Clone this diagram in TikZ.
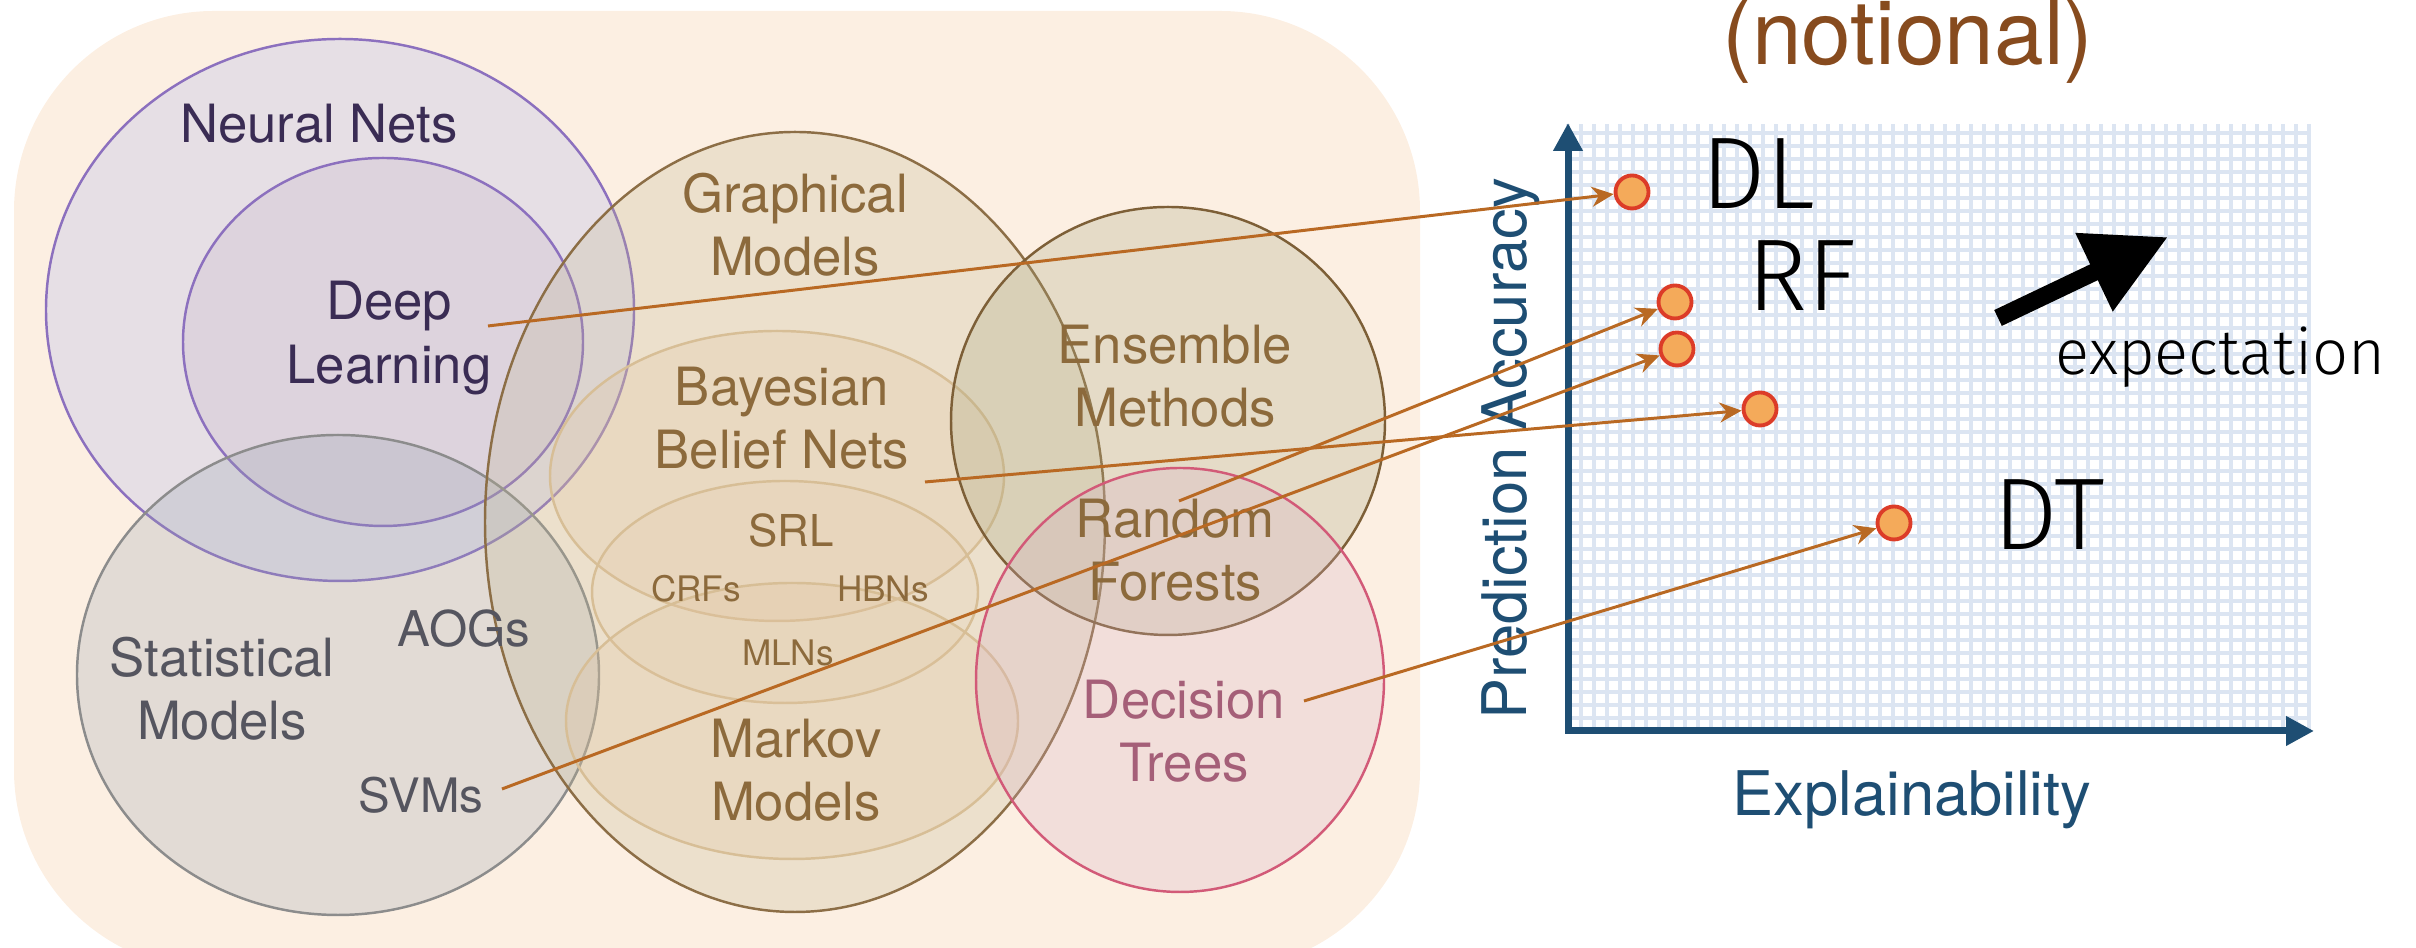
\documentclass[tikz,border=0pt]{standalone}
\usepackage{fontspec}
\setmainfont{TeX Gyre Heros}
\newfontfamily\lightfont{Fira Sans Light}
\usetikzlibrary{arrows.meta}

\definecolor{peach}{RGB}{252,239,226}
\definecolor{nnfill}{RGB}{168,179,238}
\definecolor{nnline}{RGB}{140,112,190}
\definecolor{nntext}{RGB}{58,44,84}
\definecolor{dlfill}{RGB}{195,176,201}
\definecolor{stfill}{RGB}{150,160,176}
\definecolor{stline}{RGB}{140,140,140}
\definecolor{sttext}{RGB}{85,85,95}
\definecolor{gmfill}{RGB}{192,183,142}
\definecolor{gmline}{RGB}{140,110,70}
\definecolor{gmtext}{RGB}{140,106,60}
\definecolor{bbfill}{RGB}{225,197,161}
\definecolor{bbline}{RGB}{215,190,150}
\definecolor{emfill}{RGB}{164,163,122}
\definecolor{emline}{RGB}{125,95,55}
\definecolor{dtfill}{RGB}{216,175,198}
\definecolor{dtline}{RGB}{210,90,120}
\definecolor{dttext}{RGB}{165,95,120}
\definecolor{linkc}{RGB}{185,105,35}
\definecolor{dotfill}{RGB}{244,170,90}
\definecolor{dotline}{RGB}{220,60,40}
\definecolor{axisc}{RGB}{30,78,115}
\definecolor{gridc}{RGB}{220,229,242}
\definecolor{titlec}{RGB}{135,75,30}

\tikzset{
  blob/.style={line width=0.7pt, fill opacity=0.25},
  lbl/.style={font=\fontsize{15}{18}\selectfont, align=center, inner sep=0pt},
  minilbl/.style={font=\fontsize{10}{12}\selectfont, inner sep=0pt},
  link/.style={linkc, line width=0.85pt, -{Stealth[length=0.22cm, width=0.2cm]}},
  scoredot/.style={circle, draw=dotline, fill=dotfill, line width=1.1pt, minimum size=0.33cm, inner sep=0pt},
  bigtag/.style={font=\lightfont\fontsize{29}{29}\selectfont, anchor=base west, inner sep=0pt},
  axisline/.style={axisc, line width=2pt, {Triangle[length=0.28cm, width=0.28cm]}-{Triangle[length=0.28cm, width=0.28cm]}},
  axisname/.style={text=axisc, font=\fontsize{17.5}{20}\selectfont, inner sep=0pt},
}

\begin{document}
\begin{tikzpicture}
  \useasboundingbox (0,0) rectangle (24.16,9.48);

  % ---- model families ----
  \fill[peach, rounded corners=2cm] (0.14,-0.22) rectangle (14.20,9.37);
  % Neural nets
  \draw[blob, draw=nnline, fill=nnfill] (3.40,6.38) ellipse [x radius=2.94, y radius=2.71];
  \draw[blob, draw=nnline, fill=dlfill] (3.83,6.06) ellipse [x radius=2.00, y radius=1.84];
  % Statistical models
  \draw[blob, draw=stline, fill=stfill] (3.38,2.73) ellipse [x radius=2.61, y radius=2.40];
  % Graphical models and the ones inside
  \draw[blob, draw=gmline, fill=gmfill] (7.95,4.26) ellipse [x radius=3.10, y radius=3.90];
  \draw[blob, draw=bbline, fill=bbfill] (7.77,4.72) ellipse [x radius=2.27, y radius=1.45];
  \draw[blob, draw=bbline, fill=bbfill, fill opacity=0.12] (7.85,3.56) ellipse [x radius=1.93, y radius=1.11];
  \draw[blob, draw=bbline, fill=bbfill] (7.92,2.27) ellipse [x radius=2.26, y radius=1.38];
  % Ensembles
  \draw[blob, draw=emline, fill=emfill] (11.68,5.27) ellipse [x radius=2.17, y radius=2.14];
  % Decision trees
  \draw[blob, draw=dtline, fill=dtfill] (11.80,2.68) ellipse [x radius=2.04, y radius=2.12];

  % labels
  \node[lbl, text=nntext] (nn) at (3.19,8.24) {Neural Nets};
  \node[lbl, text=nntext] (dl) at (3.89,6.10) {Deep\\Learning};
  \node[lbl, text=sttext] (st) at (2.22,2.59) {Statistical\\Models};
  \node[lbl, text=sttext, font=\fontsize{14}{16}\selectfont] (aog) at (4.64,3.19) {AOGs};
  \node[lbl, text=sttext, font=\fontsize{13.5}{16}\selectfont] (svm) at (4.21,1.53) {SVMs};
  \node[lbl, text=gmtext] (gm) at (7.95,7.23) {Graphical\\Models};
  \node[lbl, text=gmtext] (bb) at (7.82,5.30) {Bayesian\\Belief Nets};
  \node[lbl, text=gmtext, font=\fontsize{12.5}{15}\selectfont] (srl) at (7.91,4.17) {SRL};
  \node[minilbl, text=gmtext] (crf) at (6.96,3.59) {CRFs};
  \node[minilbl, text=gmtext] (hbn) at (8.83,3.59) {HBNs};
  \node[minilbl, text=gmtext] (mln) at (7.88,2.95) {MLNs};
  \node[lbl, text=gmtext] (mm) at (7.96,1.78) {Markov\\Models};
  \node[lbl, text=gmtext] (em) at (11.75,5.72) {Ensemble\\Methods};
  \node[lbl, text=gmtext] (rf) at (11.75,3.98) {Random\\Forests};
  \node[lbl, text=dttext] (dt) at (11.84,2.17) {Decision\\Trees};

  % ---- chart ----
  \node[text=titlec, font=\fontsize{25.4}{28}\selectfont, anchor=base, inner sep=0pt] (title) at (19.08,8.83) {(notional)};
  \draw[gridc, line width=1.15pt, step=0.13, xshift=15.68cm, yshift=2.17cm] (0,0) grid (7.43,6.07);
  \coordinate (orig) at (15.68,2.17);
  \coordinate (ytip) at (15.68,8.25);
  \coordinate (xtip) at (23.14,2.17);
  \draw[axisline] (ytip) -- (orig) -- (xtip);
  \node[axisname, rotate=90, anchor=base] (yname) at (15.26,4.99) {Prediction Accuracy};
  \node[axisname, anchor=base] (xname) at (19.12,1.32) {Explainability};

  \node[bigtag] (dltag) at (17.01,7.39) {DL};
  \node[bigtag] (rftag) at (17.47,6.37) {RF};
  \node[bigtag] (dttag) at (19.93,3.98) {DT};
  \node[bigtag, font=\lightfont\fontsize{18}{18}\selectfont] (exptag) at (20.55,5.73) {expectation};
  \coordinate (exptail) at (19.98,6.30);
  \coordinate (exphead) at (21.68,7.11);
  \draw[line width=5pt, -{Triangle[length=0.82cm, width=0.82cm]}] (exptail) -- (exphead);

  % scores
  \node[scoredot] (dldot) at (16.32,7.56) {};
  \node[scoredot] (rfdot) at (16.75,6.46) {};
  \node[scoredot] (svdot) at (16.77,5.99) {};
  \node[scoredot] (bbdot) at (17.60,5.39) {};
  \node[scoredot] (dtdot) at (18.94,4.25) {};

  % links from the families to their scores
  \coordinate (dlsrc) at (4.88,6.22);
  \coordinate (bbsrc) at (9.25,4.66);
  \coordinate (rfsrc) at (11.79,4.47);
  \coordinate (svsrc) at (5.02,1.59);
  \coordinate (dtsrc) at (13.04,2.47);
  \foreach \src/\dst in {dlsrc/dldot, bbsrc/bbdot, rfsrc/rfdot, svsrc/svdot, dtsrc/dtdot}
    \draw[link] (\src) -- (\dst);
\end{tikzpicture}
\end{document}
